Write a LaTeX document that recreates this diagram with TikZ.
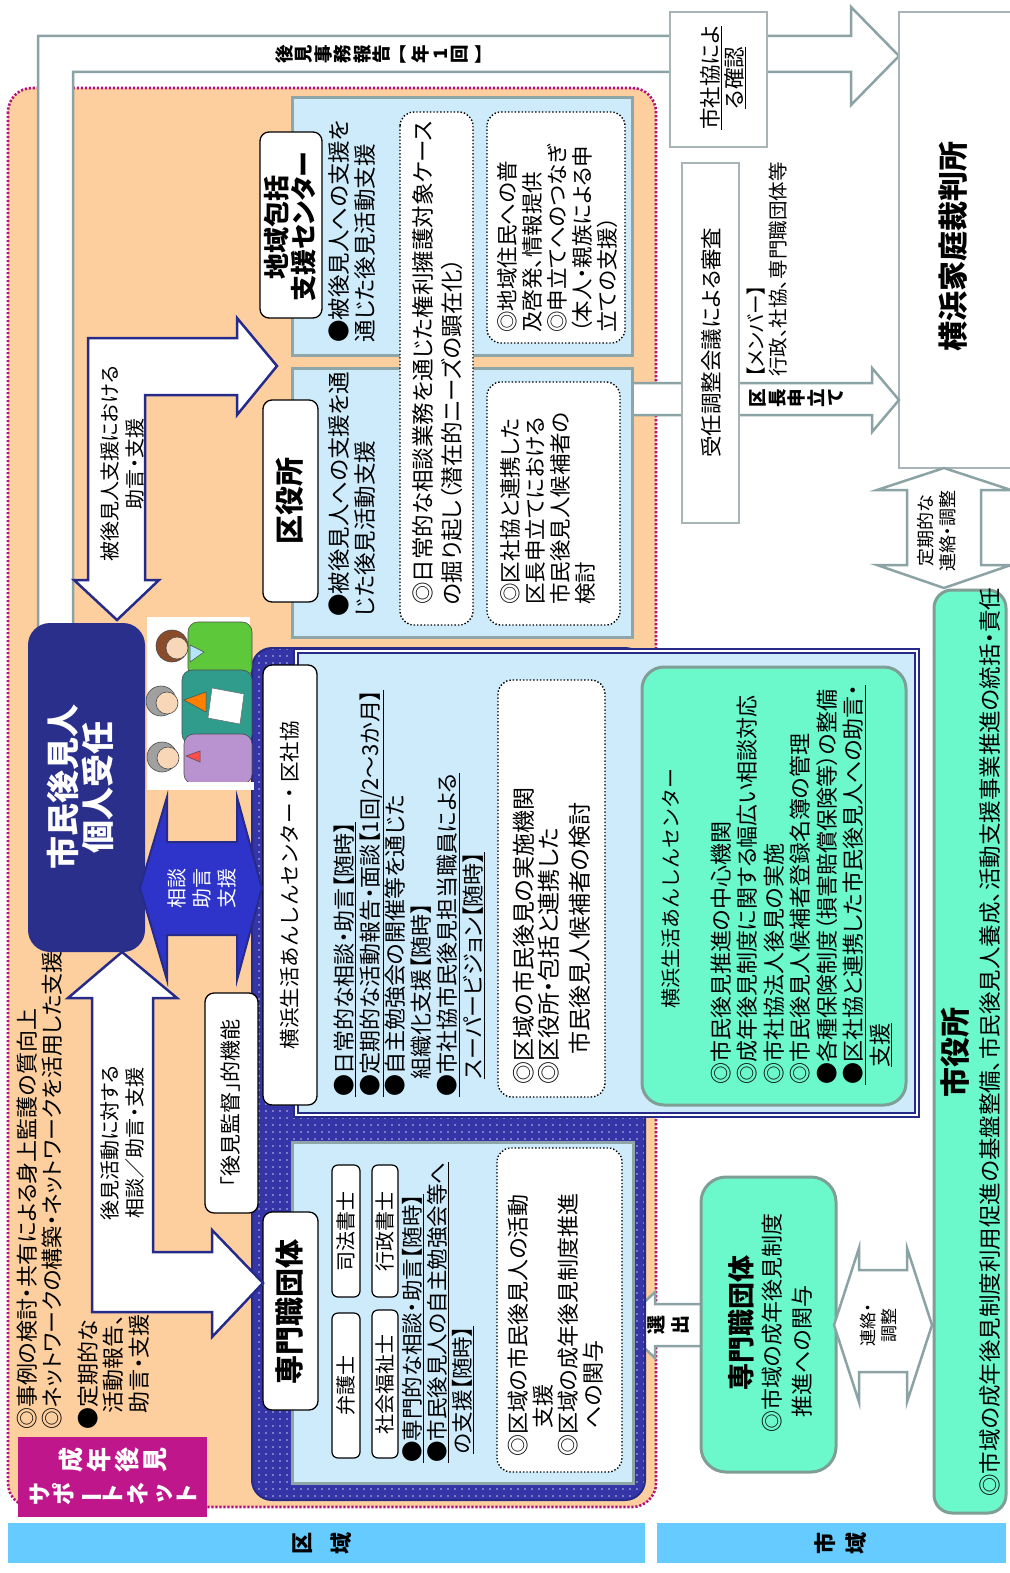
\documentclass[tikz,border=0pt]{standalone}
\usepackage{fontspec}
\usepackage{graphicx}
\setmainfont{Noto Sans CJK JP}[RawFeature={+palt}]
\newfontfamily\fullwidth{Noto Sans CJK JP}
\usetikzlibrary{patterns.meta}

\definecolor{peach}{HTML}{FDCF9F}
\definecolor{skyfill}{HTML}{CDEBFB}
\definecolor{secline}{HTML}{8EA6A8}
\definecolor{navyfill}{HTML}{3535A8}
\definecolor{navyline}{HTML}{262B8A}
\definecolor{mint}{HTML}{6BF8CB}
\definecolor{mintline}{HTML}{7E9E96}
\definecolor{magentabox}{HTML}{C0168C}
\definecolor{dotline}{HTML}{B3127C}
\definecolor{bandblue}{HTML}{66CCFF}
\definecolor{greyline}{HTML}{8CA3A5}
\definecolor{courtline}{HTML}{A8B4B6}
\definecolor{royal}{HTML}{2E34C9}
\definecolor{boss}{HTML}{2B2F8C}
\definecolor{jacketA}{HTML}{5CC83A}
\definecolor{jacketB}{HTML}{2F9C8C}
\definecolor{jacketC}{HTML}{B893CF}
\definecolor{hairA}{HTML}{8A4B2B}
\definecolor{hairG}{HTML}{A0A0A0}
\definecolor{skin}{HTML}{F7D7B8}

\newcommand\fs[2]{\fontsize{#1}{#2}\selectfont}
\newcommand\tatefs[2]{\bfseries\fontsize{#1}{#2}\selectfont\lineskiplimit=-50pt\relax}
\newcommand\tbar{\rotatebox[origin=c]{90}{ー}}
\newcommand\topen{\rotatebox[origin=c]{-90}{【}}
\newcommand\tclose{\rotatebox[origin=c]{-90}{】}}

\begin{document}
\begin{tikzpicture}[x=1pt,y=-1pt,
  txt/.style={inner sep=0pt, rotate=90, font=\fs{22.5}{26}},
  tate/.style={inner sep=0pt, rotate=90, align=center},
  sec/.style={fill=skyfill, draw=secline, line width=3pt},
  titlebox/.style={fill=white, draw=black, line width=1.3pt, rounded corners=9pt},
  dotbox/.style={fill=white, draw=black, line width=1.4pt, dotted, rounded corners=14pt},
  smallbox/.style={fill=white, draw=black, line width=1.2pt, rounded corners=6pt},
  greybox/.style={fill=white, draw=courtline, line width=1.5pt},
  greyarrow/.style={fill=white, draw=greyline, line width=2.5pt, line join=miter},
  navyarrow/.style={fill=white, draw=navyline, line width=2.5pt, line join=miter},
  minty/.style={fill=mint, draw=mintline, line width=3pt, rounded corners=22pt}]

% page
\fill[white] (0,0) rectangle (1009,1573);
\useasboundingbox (0,0) rectangle (1009,1573);

% level bands
\fill[bandblue] (8,1523) rectangle (645,1563);
\fill[bandblue] (657,1523) rectangle (1006,1563);
\node[tate, font=\tatefs{22}{39}] (kuiki) at (322,1543) {区\\域};
\node[tate, font=\tatefs{22}{31}] (shiiki) at (841,1543) {市\\域};

% ward-level support network area
\draw[fill=peach, draw=dotline, line width=2.6pt, dash pattern=on 2.2pt off 1.8pt, rounded corners=24pt] (8,88) rectangle (656,1507);

% annual report arrow to the court
\draw[greyarrow] (38,640) -- (38,36) -- (851,36) -- (851,7) -- (899,56) -- (851,105) -- (851,72) -- (73,72) -- (73,640);
\node[tate, font=\tatefs{18.5}{19.5}] (houkoku) at (381,54) {後\\見\\事\\務\\報\\告\\\topen\\年\\1\\回\\\tclose};

% confirmation box
\draw[greybox] (670,12) rectangle (767,147);
\node[txt, align=center, font=\fs{21.5}{24}] (kakunin) at (723,78) {\underline{市社協によ}\\\underline{る確認}};

% family court
\draw[greybox] (899,12) rectangle (1012,468);
\node[txt, font=\bfseries\fs{30}{32}] (court) at (953,246) {横浜家庭裁判所};

% petition arrow
\draw[greyarrow] (632,383) -- (872,383) -- (872,368) -- (899,400) -- (872,432) -- (872,415) -- (632,415);
\draw[greybox] (682,163) rectangle (739,523);
\node[txt, anchor=west, font=\fs{21.5}{24}] (junin) at (711,458) {受任調整会議による審査};
\node[txt, anchor=west, align=left, font=\fs{19.5}{22}] (member) at (767,377) {【メンバー】\\行政、社協、専門職団体等};
\node[tate, font=\tatefs{18.5}{19.5}] (kucho) at (797,398) {区\\長\\申\\立\\て};

% regular liaison arrow (court - city hall)
\draw[greyarrow] (944,468) -- (1011,490) -- (981,490) -- (981,565) -- (1011,565) -- (944,588) -- (877,565) -- (907,565) -- (907,490) -- (877,490) -- cycle;
\node[txt, align=center, font=\fs{18}{22}] (teiki) at (937,531) {定期的な\\連絡・調整};

% city hall
\draw[minty, rounded corners=18pt] (934,590) rectangle (1006,1513);
\node[txt, font=\bfseries\fs{30}{32}] (city) at (955,1052) {市役所};
\node[txt, anchor=west] (citytext) at (990,1497) {◎市域の成年後見制度利用促進の基盤整備、市民後見人養成、活動支援事業推進の統括・責任};

% selection arrow
\draw[greyarrow] (701,1304) -- (655,1304) -- (655,1292) -- (620,1325) -- (655,1358) -- (655,1346) -- (701,1346);
\node[tate, font=\tatefs{19}{24}] (senshutsu) at (668,1325) {選\\出};

% city professional bodies
\draw[minty, rounded corners=25pt] (701,1177) rectangle (836,1472);
\node[txt, font=\bfseries\fs{27}{30}] (pro2t) at (741,1323) {専門職団体};
\node[txt, anchor=west, align=left, font=\fs{22}{30}] (pro2) at (787,1433) {◎市域の成年後見制度\\\hspace*{0.7em}推進への関与};

% liaison arrow (professional bodies - city hall)
\draw[greyarrow] (834,1325) -- (859,1248) -- (859,1270) -- (907,1270) -- (907,1248) -- (932,1325) -- (907,1402) -- (907,1372) -- (859,1372) -- (859,1402) -- cycle;
\node[txt, align=center, font=\fs{17}{21}] (renraku) at (879,1325) {連絡・\\調整};

% dotted navy frame
\fill[navyfill, rounded corners=20pt] (252,648) rectangle (645,1500);
\fill[pattern={Dots[distance=7pt, radius=0.8pt]}, pattern color=white!70!navyfill, rounded corners=20pt] (252,648) rectangle (645,1500);
\draw[navyline, line width=2pt, rounded corners=20pt] (252,648) rectangle (645,1500);

% section panels
\draw[sec] (292,98) rectangle (632,355);
\draw[sec] (292,368) rectangle (632,637);
\draw[sec] (292,1142) rectangle (633,1483);
\draw[fill=skyfill, draw=navyline, double=white, double distance=2pt, line width=1.6pt] (296,651) rectangle (917,1115);
\draw[minty] (642,667) rectangle (906,1105);

% section titles
\draw[titlebox] (260,132) rectangle (322,318);
\node[txt, align=center, font=\bfseries\fs{26}{27}] (chiiki) at (290,227) {地域包括\\支援センター};
\draw[titlebox] (263,400) rectangle (318,602);
\node[txt, font=\bfseries\fs{29}{30}] (kuyakusho) at (290,501) {区役所};
\draw[titlebox] (263,665) rectangle (317,1105);
\node[txt, font=\fullwidth\fs{20.5}{22}] (kushakyo) at (290,885) {横浜生活あんしんセンター・区社協};
\draw[titlebox] (263,1212) rectangle (318,1410);
\node[txt, font=\bfseries\fs{29}{30}] (senmon) at (290,1312) {専門職団体};

% community support centre
\node[txt, anchor=west, align=left] (chiikiB) at (352.5,343) {●被後見人への支援を\\通じた後見活動支援};
\draw[dotbox] (400,112) rectangle (473,625);
\node[txt, anchor=west, align=left, font=\fs{22.5}{29}] (hori) at (437.5,605) {◎日常的な相談業務を通じた権利擁護対象ケース\\の掘り起し（潜在的ニーズの顕在化）};
\draw[dotbox] (487,112) rectangle (625,343);
\node[txt, anchor=west, align=left, font=\fs{21.5}{25.2}] (fukyu) at (557.5,333) {◎地域住民への普\\及啓発、情報提供\\◎申立てへのつなぎ\\（本人・親族による申\\立ての支援）};

% ward office
\node[txt, anchor=west, align=left] (kuyakuB) at (352.5,617) {●被後見人への支援を通\\じた後見活動支援};
\draw[dotbox] (487,382) rectangle (620,625);
\node[txt, anchor=west, align=left, font=\fs{21.5}{25}] (kucho2) at (547.5,605) {◎区社協と連携した\\区長申立てにおける\\市民後見人候補者の\\検討};

% ward council of social welfare
\node[txt, anchor=west, align=left, font=\fs{22}{25.8}] (kuB) at (409.5,1097) {\underline{●日常的な相談・助言【随時】}\\\underline{●定期的な活動報告・面談【1回/2～3か月】}\\●自主勉強会の開催等を通じた\\\hspace*{0.8em}組織化支援【随時】\\\underline{●市社協市民後見担当職員による}\\\hspace*{0.8em}\underline{スーパービジョン【随時】}};
\draw[dotbox] (498,680) rectangle (605,1097);
\node[txt, anchor=west, align=left, font=\fs{23}{25}] (kuC) at (552,1085) {◎区域の市民後見の実施機関\\◎区役所・包括と連携した\\[6pt]\hspace*{1.3em}市民後見人候補者の検討};
\node[txt, font=\fullwidth\fs{20}{22}] (anshin) at (671,888) {横浜生活あんしんセンター};
\node[txt, anchor=west, align=left, font=\fs{22}{26.5}] (anshinB) at (801.5,1085) {◎市民後見推進の中心機関\\◎成年後見制度に関する幅広い相談対応\\◎市社協法人後見の実施\\◎市民後見人候補者登録名簿の管理\\●各種保険制度（損害賠償保険等）の整備\\\underline{●区社協と連携した市民後見人への助言・}\\\hspace*{0.8em}\underline{支援}};

% ward professional bodies
\draw[smallbox] (332,1313) rectangle (360,1458);
\node[txt, font=\fs{20}{22}] (bengo) at (346,1385) {弁護士};
\draw[smallbox] (372,1310) rectangle (398,1458);
\node[txt, font=\fs{20}{22}] (fukushi) at (385,1384) {社会福祉士};
\draw[smallbox] (332,1165) rectangle (360,1297);
\node[txt, font=\fs{20}{22}] (shihou) at (346,1231) {司法書士};
\draw[smallbox] (372,1165) rectangle (398,1297);
\node[txt, font=\fs{20}{22}] (gyousei) at (385,1231) {行政書士};
\node[txt, anchor=west, align=left, font=\fs{21.5}{25}] (senmonB) at (438,1463) {\underline{●専門的な相談・助言【随時】}\\\underline{●市民後見人の自主勉強会等へ}\\\hspace*{0.4em}\underline{の支援【随時】}};
\draw[dotbox] (497,1148) rectangle (622,1472);
\node[txt, anchor=west, align=left, font=\fs{22}{25}] (senmonC) at (555.5,1457) {◎区域の市民後見人の活動\\\hspace*{1.3em}支援\\◎区域の成年後見制度推進\\\hspace*{1.3em}への関与};

% support network notes
\node[txt, anchor=west, align=left, font=\fs{22}{25}] (net1) at (39.5,1430) {◎事例の検討・共有による身上監護の質向上\\◎ネットワークの構築・ネットワークを活用した支援};
\node[txt, anchor=west, align=left, font=\fs{22}{25.5}] (net2) at (113.5,1430) {●定期的な\\\hspace*{0.75em}活動報告、\\\hspace*{0.75em}助言・支援};
\fill[magentabox] (18,1437) rectangle (207,1517);
\node[tate, text=white, font=\tatefs{25}{28}] (sn1) at (113,1460) {成\\年\\後\\見};
\node[tate, text=white, font=\tatefs{23}{24.5}] (sn2) at (113,1494) {サ\\ポ\\\tbar\\ト\\ネ\\ッ\\ト};

% advice arrow towards ward bodies
\draw[navyarrow] (117,620) -- (159,580) -- (145,580) -- (145,395) -- (237,395) -- (237,415) -- (277,366) -- (237,318) -- (237,338) -- (88,338) -- (88,580) -- (74,580) -- cycle;
\node[txt, align=center, font=\fs{20}{25}] (hikouken) at (122,464) {被後見人支援における\\助言・支援};

% support arrow from professional bodies
\draw[navyarrow] (122,952) -- (177,998) -- (153,998) -- (153,1252) -- (212,1252) -- (212,1230) -- (263,1283) -- (212,1337) -- (212,1312) -- (92,1312) -- (92,998) -- (68,998) -- cycle;
\node[txt, align=center, font=\fs{20}{25}] (kouken) at (122,1143) {後見活動に対する\\相談／助言・支援};

% supervision box
\draw[titlebox] (205,993) rectangle (258,1213);
\node[txt, font=\fs{21}{22}] (kantoku) at (231,1103) {「後見監督」的機能};

% citizen guardian
\fill[boss, rounded corners=22pt] (28,623) rectangle (145,952);
\node[txt, text=white, align=center, font=\bfseries\fs{33}{35}] (citizen) at (80,787) {市民後見人\\個人受任};

% consultation double arrow
\draw[fill=royal, draw=navyline, line width=2pt, line join=miter] (140,888) -- (167,797) -- (167,842) -- (237,842) -- (237,797) -- (262,888) -- (237,980) -- (237,935) -- (167,935) -- (167,980) -- cycle;
\node[txt, text=white, align=center, font=\fs{20}{25}] (soudan) at (202,888) {相談\\助言\\支援};

% three guardians
\fill[white] (147,617) rectangle (250,782);
\filldraw[fill=jacketA, draw=black!70, line width=0.6pt, rounded corners=10pt] (188,622) rectangle (252,678);
\filldraw[fill=hairA, draw=black!70, line width=0.6pt] (172,646) circle (16pt);
\filldraw[fill=skin, draw=black!70, line width=0.6pt] (177,648) circle (11pt);
\filldraw[fill=cyan!30, draw=black!70, line width=0.5pt] (190,645) -- (204,652) -- (190,662) -- cycle;
\filldraw[fill=jacketB, draw=black!70, line width=0.6pt, rounded corners=10pt] (182,670) rectangle (252,744);
\filldraw[fill=orange, draw=black!70, line width=0.5pt] (184,700) -- (206,692) -- (206,712) -- cycle;
\filldraw[fill=white, draw=black!60, line width=0.5pt] (212,688) -- (244,694) -- (240,724) -- (208,718) -- cycle;
\filldraw[fill=hairG, draw=black!70, line width=0.6pt] (161,701) circle (15pt);
\filldraw[fill=skin, draw=black!70, line width=0.6pt] (167,703) circle (11pt);
\filldraw[fill=jacketC, draw=black!70, line width=0.6pt, rounded corners=10pt] (184,734) rectangle (252,784);
\filldraw[fill=red!70, draw=black!70, line width=0.5pt] (186,756) -- (200,751) -- (200,762) -- cycle;
\filldraw[fill=hairG, draw=black!70, line width=0.6pt] (162,757) circle (15pt);
\filldraw[fill=skin, draw=black!70, line width=0.6pt] (168,758) circle (11pt);
\fill[white] (147,782) rectangle (254,790);

\end{tikzpicture}
\end{document}
